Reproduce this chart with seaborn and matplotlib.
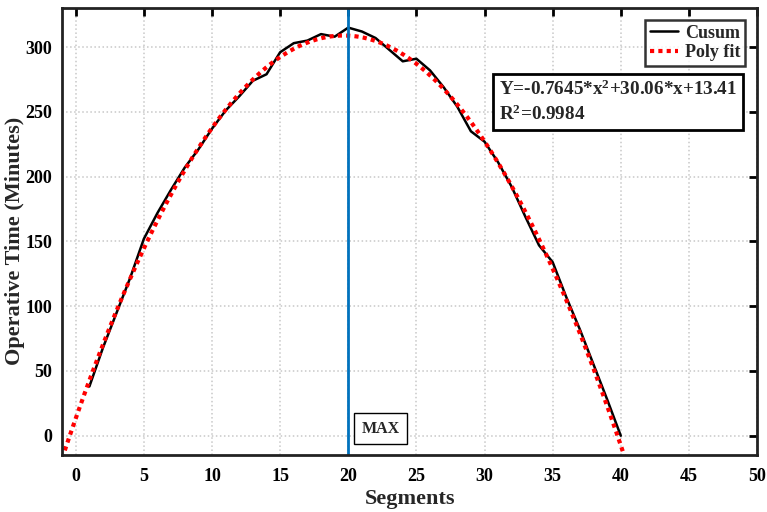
import numpy as np
import pandas as pd
import matplotlib
matplotlib.use("Agg")
import matplotlib.pyplot as plt
import seaborn as sns


# Cusum values
segments = list(range(1, 41))
cusum = [38, 68, 95, 122, 152, 172, 190, 207, 221, 237,
         251, 262, 274, 279, 296, 303, 305, 310, 308, 315,
         312, 307, 298, 289, 291, 282, 269, 254, 235, 227,
         211, 192, 169, 147, 134, 107, 82, 55, 28, 0]

# Quadratic fit coefficients as printed on the chart
coef_a = -0.7645
coef_b = 30.06
coef_c = 13.41
r_squared = 0.9984
max_segment = 20

x_ticks = list(range(0, 51, 5))
y_ticks = list(range(0, 301, 50))


df = pd.DataFrame({"Segments": segments, "Cusum": cusum})

fit_x = np.linspace(-1, 40.4, 300)
fit_df = pd.DataFrame({"Segments": fit_x,
                       "Fit": coef_a * fit_x ** 2 + coef_b * fit_x + coef_c})


# Style
sns.set_theme(style="white")
plt.rcParams["font.family"] = ["Liberation Serif", "DejaVu Serif"]
plt.rcParams["font.weight"] = "bold"
plt.rcParams["mathtext.fontset"] = "custom"
plt.rcParams["mathtext.rm"] = "Liberation Serif:bold"
plt.rcParams["mathtext.it"] = "Liberation Serif:bold"
plt.rcParams["mathtext.bf"] = "Liberation Serif:bold"
plt.rcParams["mathtext.default"] = "bf"


fig = plt.figure(figsize=(7.67, 5.12), dpi=100)
ax = fig.add_axes([0.081, 0.111, 0.906, 0.873])

ax.grid(True, color="#c8c8c8", linestyle=":", linewidth=1.1)
ax.set_axisbelow(True)

sns.lineplot(data=df, x="Segments", y="Cusum", ax=ax,
             color="black", linewidth=1.8, label="Cusum")
sns.lineplot(data=fit_df, x="Segments", y="Fit", ax=ax,
             color="red", linewidth=3, linestyle=(0, (1, 1)),
             label="Poly fit")

ax.axvline(max_segment, color="#0072BD", linewidth=2)

ax.text(22.35, 5.5, "MAX", fontsize=11.5, fontweight="bold",
        ha="center", va="center",
        bbox=dict(boxstyle="square,pad=0.45", facecolor="white",
                  edgecolor="black", linewidth=1))

eq_text = ("Y=%.4f*x$^2$+%.2f*x+%.2f\nR$^2$=%.4f"
           % (coef_a, coef_b, coef_c, r_squared))
ax.text(31.05, 257.5, eq_text, fontsize=13.8, fontweight="bold",
        ha="left", va="center", linespacing=1.35,
        bbox=dict(boxstyle="square,pad=0.32", facecolor="white",
                  edgecolor="black", linewidth=2))

leg = ax.legend(loc="upper right", fontsize=13, frameon=True,
                fancybox=False, handlelength=1.55, borderpad=0.25,
                labelspacing=0.15, handletextpad=0.4, borderaxespad=0,
                bbox_to_anchor=(0.983, 0.973))
leg.get_frame().set_edgecolor("black")
leg.get_frame().set_linewidth(1.8)
for t in leg.get_texts():
    t.set_fontweight("bold")

ax.set_xlim(-1, 50)
ax.set_ylim(-15, 330)
ax.set_xticks(x_ticks)
ax.set_yticks(y_ticks)
ax.tick_params(direction="in", length=6, width=2, top=True, right=True,
               labelsize=13, colors="black")
ax.tick_params(axis="x", pad=9)
ax.tick_params(axis="y", pad=7)
for lab in ax.get_xticklabels() + ax.get_yticklabels():
    lab.set_fontweight("bold")

for s in ax.spines.values():
    s.set_linewidth(2)
    s.set_color("#222222")

ax.set_xlabel("Segments", fontsize=16, fontweight="bold", labelpad=3)
ax.set_ylabel("Operative Time (Minutes)", fontsize=16, fontweight="bold")
ax.yaxis.set_label_coords(-0.053, 0.479)

plt.savefig("out.png", dpi=100)
